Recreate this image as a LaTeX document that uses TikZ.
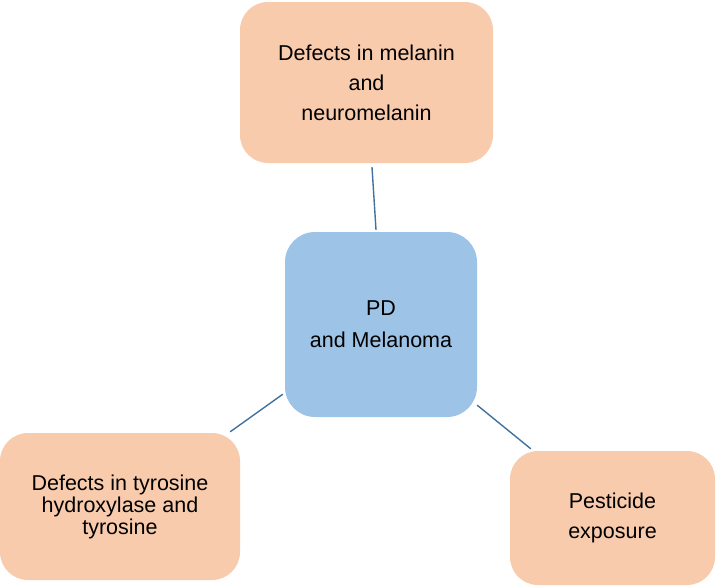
\documentclass[tikz,border=0pt]{standalone}
\usepackage{fontspec}
\setmainfont{Liberation Sans}
\usetikzlibrary{calc}
\definecolor{peach}{HTML}{F8CBAD}
\definecolor{paleblue}{HTML}{9DC3E6}
\definecolor{linkblue}{HTML}{41719C}

\begin{document}
\begin{tikzpicture}[x=1pt,y=-1pt,
        cause/.style={fill=peach, rounded corners=28pt, align=center, font=\fontsize{21.5}{22}\selectfont},
        centre/.style={fill=paleblue, rounded corners=30pt, align=center, font=\fontsize{21.5}{22}\selectfont},
        link/.style={draw=linkblue, line width=1.4pt}]
    \useasboundingbox (0,0) rectangle (717,587);
    \node[cause, minimum width=253pt, minimum height=161pt] (melanin) at (366.5,82.5) {Defects in melanin\\[8pt] and\\[8pt] neuromelanin};
    \node[centre, minimum width=192pt, minimum height=185pt] (pd) at (381,324.5) {PD\\[10pt] and Melanoma};
    \node[cause, minimum width=240pt, minimum height=147pt] (tyrosine) at (120,506.5) {Defects in tyrosine\\ hydroxylase and\\ tyrosine};
    \node[cause, minimum width=205pt, minimum height=134pt] (pesticide) at (612.5,518) {Pesticide\\[8pt] exposure};
    \draw[link] ($(melanin.south)+(5.5,4)$) -- ($(pd.north)+(-5,-2)$);
    \draw[link] ($(tyrosine.north east)+(-10,-1)$) -- ($(pd.south west)+(-2,-23)$);
    \draw[link] ($(pd.south east)+(0,-12)$) -- ($(pesticide.north west)+(21,-2)$);
\end{tikzpicture}
\end{document}
